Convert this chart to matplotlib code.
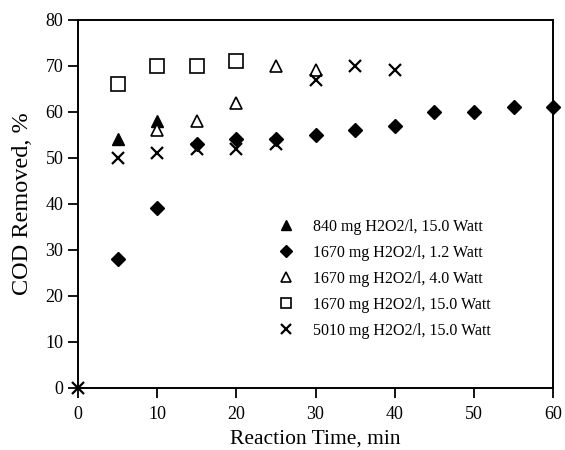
import matplotlib.pyplot as plt

plt.rcParams['font.family'] = ['Liberation Serif', 'DejaVu Serif']

# 840 mg H2O2/l, 15.0 Watt
t_840 = [5, 10]
cod_840 = [54, 58]

# 1670 mg H2O2/l, 1.2 Watt
t_1670_12 = [5, 10, 15, 20, 25, 30, 35, 40, 45, 50, 55, 60]
cod_1670_12 = [28, 39, 53, 54, 54, 55, 56, 57, 60, 60, 61, 61]

# 1670 mg H2O2/l, 4.0 Watt
t_1670_40 = [10, 15, 20, 25, 30]
cod_1670_40 = [56, 58, 62, 70, 69]

# 1670 mg H2O2/l, 15.0 Watt
t_1670_150 = [5, 10, 15, 20]
cod_1670_150 = [66, 70, 70, 71]

# 5010 mg H2O2/l, 15.0 Watt
t_5010 = [0, 5, 10, 15, 20, 25, 30, 35, 40]
cod_5010 = [0, 50, 51, 52, 52, 53, 67, 70, 69]

fig = plt.figure(figsize=(5.65, 4.5), dpi=100)
ax = fig.add_axes([0.138, 0.138, 0.841, 0.818])

ax.plot(t_840, cod_840, ls='none', marker='^', ms=9, color='black',
        label='840 mg H2O2/l, 15.0 Watt', clip_on=False)
ax.plot(t_1670_12, cod_1670_12, ls='none', marker='D', ms=7.5, color='black',
        label='1670 mg H2O2/l, 1.2 Watt', clip_on=False)
ax.plot(t_1670_40, cod_1670_40, ls='none', marker='^', ms=9, mfc='white',
        mec='black', mew=1.2, label='1670 mg H2O2/l, 4.0 Watt', clip_on=False)
ax.plot(t_1670_150, cod_1670_150, ls='none', marker='s', ms=9.5, mfc='white',
        mec='black', mew=1.2, label='1670 mg H2O2/l, 15.0 Watt', clip_on=False)
ax.plot(t_5010, cod_5010, ls='none', marker='x', ms=9, mew=1.6, color='black',
        label='5010 mg H2O2/l, 15.0 Watt', clip_on=False)

ax.set_xlim(0, 60)
ax.set_ylim(0, 80)
ax.set_xticks(range(0, 61, 10))
ax.set_yticks(range(0, 81, 10))
ax.tick_params(direction='out', length=7, width=1.3, labelsize=13,
               top=False, right=False)
ax.tick_params(axis='x', pad=6)
for s in ax.spines.values():
    s.set_linewidth(1.4)

ax.set_xlabel('Reaction Time, min', fontsize=15.5, labelpad=5)
ax.set_ylabel('COD Removed, %', fontsize=17.5, labelpad=9)

ax.legend(loc='lower left', bbox_to_anchor=(0.39, 0.095), frameon=False,
          fontsize=11.5, markerscale=0.75, handletextpad=1.2,
          labelspacing=0.62, handlelength=1.0)

fig.savefig('out.png', dpi=100)
